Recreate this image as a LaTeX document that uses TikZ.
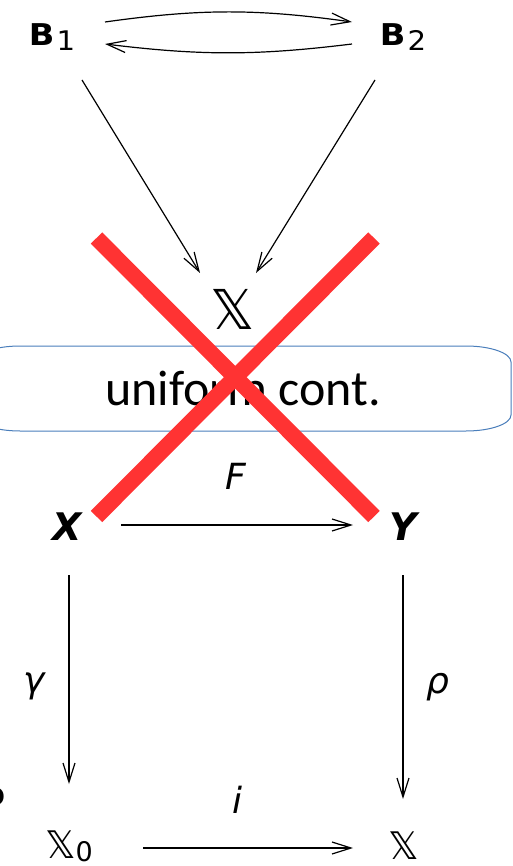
\documentclass[tikz,border=0pt]{standalone}
\usepackage{fontspec}
\setmainfont{DejaVu Sans}
\newfontfamily\calib{Carlito}
\usetikzlibrary{arrows.meta}
\definecolor{crossred}{RGB}{255,51,51}
\definecolor{boxblue}{RGB}{74,126,187}
\tikzset{
  lbl/.style={inner sep=0pt, anchor=base},
  arr/.style={line width=1.2pt, -{Straight Barb[length=19pt,width=12pt,line width=1.2pt]}},
  crossline/.style={crossred, line width=16pt, line cap=butt},
  boxline/.style={boxblue, line width=1pt},
}
\newcommand{\bsub}[1]{\scalebox{1.12}[1]{\fontsize{30}{30}\selectfont\bfseries B}\hspace{2pt}\raisebox{-5pt}{\scalebox{1.08}[1]{\fontsize{27}{27}\selectfont #1}}}
\begin{document}
\begin{tikzpicture}[x=1pt,y=-1pt]
\useasboundingbox (0,0) rectangle (513,866);
% nodes
\node[lbl] (B1) at (52,46) {\bsub{1}};
\node[lbl] (B2) at (403,46) {\bsub{2}};
\node[lbl] (Xm) at (233,329) {\fontsize{55}{55}\selectfont 𝕏};
\node[lbl] (X) at (67,540) {\fontsize{38}{38}\selectfont\bfseries\itshape X};
\node[lbl] (Y) at (403,540) {\fontsize{38}{38}\selectfont\bfseries\itshape Y};
\node[lbl] (X0) at (69,858) {\fontsize{38}{38}\selectfont 𝕏\raisebox{-3pt}{\fontsize{27}{27}\selectfont 0}};
\node[lbl] (Xr) at (404,859) {\fontsize{38}{38}\selectfont 𝕏};
\node[lbl] (uc) at (243,405) {\calib\fontsize{50}{50}\selectfont uniform cont.};
\node[lbl, anchor=base east] (cut) at (6,805) {\fontsize{32}{32}\selectfont\bfseries o};
% labels
\node[inner sep=0pt] (lF) at (236,476) {\fontsize{36}{36}\selectfont\itshape F};
\node[inner sep=0pt] (lg) at (34,686) {\fontsize{36}{36}\selectfont\itshape γ};
\node[inner sep=0pt] (lr) at (438,687) {\fontsize{36}{36}\selectfont\itshape ρ};
\node[inner sep=0pt] (li) at (237,800) {\fontsize{36}{36}\selectfont\itshape i};
% box
\draw[boxline] (20,346) -- (466,346) arc[start angle=90,end angle=0,x radius=45pt,y radius=16pt]
  -- (511,415) arc[start angle=0,end angle=-90,x radius=45pt,y radius=16pt]
  -- (20,431) arc[start angle=270,end angle=180,x radius=45pt,y radius=16pt]
  -- (-25,362) arc[start angle=180,end angle=90,x radius=45pt,y radius=16pt] -- cycle;
% connectors
\draw[arr] ([shift={(53,-24)}]B1.base) to[bend left=8] ([shift={(-51,-24)}]B2.base);
\draw[arr] ([shift={(-51,-2)}]B2.base) to[bend left=7] ([shift={(53,-2)}]B1.base);
\draw[arr] ([shift={(30,34)}]B1.base) -- ([shift={(-33,-56)}]Xm.base);
\draw[arr] ([shift={(-28,34)}]B2.base) -- ([shift={(23,-56)}]Xm.base);
\draw[arr] ([shift={(54,-15)}]X.base) -- ([shift={(-50,-15)}]Y.base);
\draw[arr] ([shift={(2,35)}]X.base) -- ([shift={(0,-74)}]X0.base);
\draw[arr] ([shift={(0,35)}]Y.base) -- ([shift={(-1,-60)}]Xr.base);
\draw[arr] ([shift={(74,-10)}]X0.base) -- ([shift={(-51,-11)}]Xr.base);
% red cross
\draw[crossline] (96.5,238) -- (374,516.5);
\draw[crossline] (374,238) -- (96.5,516.5);
\end{tikzpicture}
\end{document}
